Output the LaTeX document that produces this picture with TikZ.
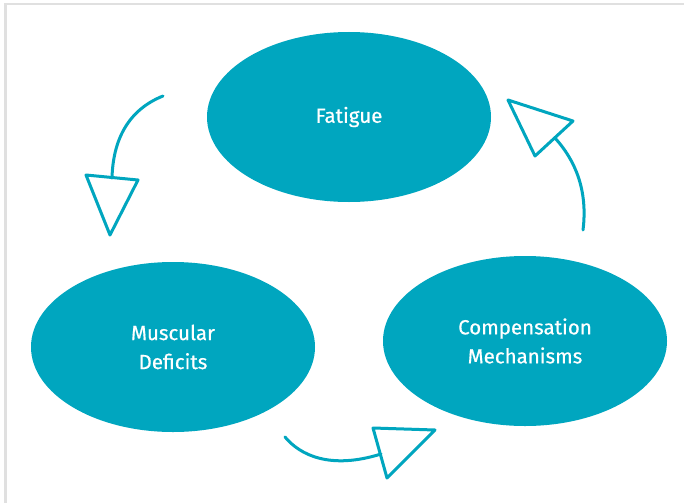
\documentclass[tikz,border=0pt]{standalone}
\usepackage{fontspec}
\setmainfont{Fira Sans}
\newfontfamily\labelfont{Fira Sans}[FakeBold=0.5]
\usetikzlibrary{shapes.geometric}
\definecolor{teal}{RGB}{0,166,191}
\definecolor{framegray}{RGB}{224,224,224}
\begin{document}
\begin{tikzpicture}[x=1pt,y=-1pt,
  blob/.style={ellipse, fill=teal, minimum width=284pt, minimum height=170pt, text=white, font=\labelfont\fontsize{20.5}{29}\selectfont, align=center, inner sep=0pt},
  sketch/.style={draw=teal, line width=3pt, line cap=round, line join=round}]
\useasboundingbox (0,0) rectangle (684,503);
\fill[white] (0,0) rectangle (684,503);
\draw[framegray, line width=2.5pt] (5.5,503) -- (5.5,4) -- (684,4);

\node[blob] (fat) at (349,117) {Fatigue};
\node[blob] (mus) at (173,347) {Muscular\\Deficits};
\node[blob] (com) at (525,341) {Compensation\\Mechanisms};

% arrow from Fatigue to Muscular Deficits
\coordinate (a1s) at (163,96);
\coordinate (a1e) at (112,178);
\draw[sketch] (a1s) .. controls (128,110) and (113,140) .. (a1e);
\draw[sketch] (86,175) -- (138,180) -- (110,235) -- cycle;

% arrow from Muscular Deficits to Compensation Mechanisms
\coordinate (a2s) at (285,437);
\coordinate (a2e) at (381,454);
\draw[sketch] (a2s) .. controls (300,455) and (330,470) .. (a2e);
\draw[sketch] (373,428) -- (435,430) -- (387,478) -- cycle;

% arrow from Compensation Mechanisms to Fatigue
\coordinate (a3s) at (583,230);
\coordinate (a3e) at (555,138);
\draw[sketch] (a3s) .. controls (588,190) and (575,160) .. (a3e);
\draw[sketch] (508,100) -- (573,121) -- (535,156) -- cycle;
\end{tikzpicture}
\end{document}
